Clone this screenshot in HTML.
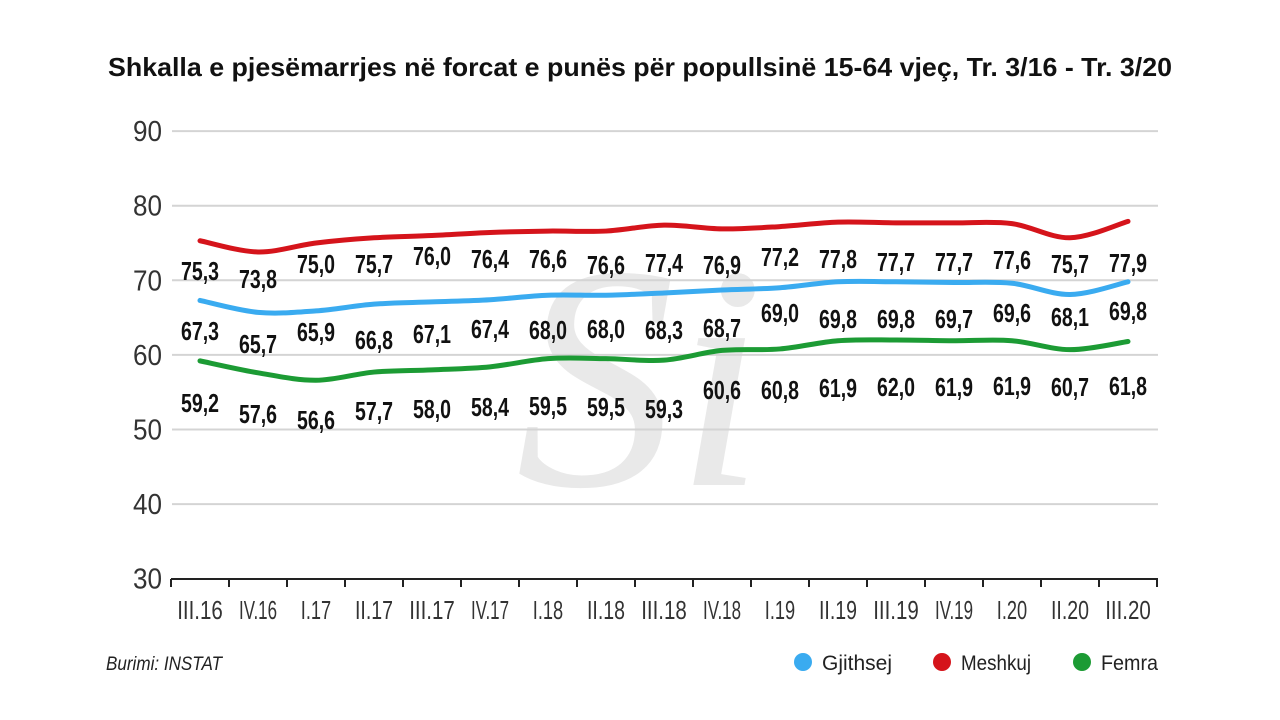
<!DOCTYPE html>
<html><head><meta charset="utf-8"><style>
html,body{margin:0;padding:0;background:#fff;width:1280px;height:720px;overflow:hidden}
svg{display:block}
.t{font-family:"Liberation Sans Narrow","Liberation Sans",sans-serif}
</style></head><body>
<svg id="s" width="1280" height="720" xmlns="http://www.w3.org/2000/svg">
<text x="640" y="76" text-anchor="middle" class="t" font-weight="bold" font-size="26" fill="#111" textLength="1064" lengthAdjust="spacingAndGlyphs">Shkalla e pjesëmarrjes në forcat e punës për popullsinë 15-64 vjeç, Tr. 3/16 - Tr. 3/20</text>
<text x="640" y="485" text-anchor="middle" font-family="Liberation Serif,serif" font-style="italic" font-size="320" fill="#e9e9e9">Si</text>
<g id="grid"></g>
<g id="series"></g>
<g id="labels"></g>
<text x="106" y="670" class="t" font-style="italic" font-size="19" fill="#222" textLength="116" lengthAdjust="spacingAndGlyphs">Burimi: INSTAT</text>
<circle cx="803" cy="662" r="9" fill="#3aabf0"/><text x="822" y="670" class="t" font-size="21" fill="#222" textLength="70" lengthAdjust="spacingAndGlyphs">Gjithsej</text>
<circle cx="942" cy="662" r="9" fill="#d5141b"/><text x="961" y="670" class="t" font-size="21" fill="#222" textLength="70" lengthAdjust="spacingAndGlyphs">Meshkuj</text>
<circle cx="1082" cy="662" r="9" fill="#1c9b34"/><text x="1101" y="670" class="t" font-size="21" fill="#222" textLength="57" lengthAdjust="spacingAndGlyphs">Femra</text>
</svg>
<script>
var NS="http://www.w3.org/2000/svg";
function el(p,n,a,txt){var e=document.createElementNS(NS,n);for(var k in a)e.setAttribute(k,a[k]);if(txt!=null)e.textContent=txt;document.getElementById(p).appendChild(e);return e;}
function Y(v){return 578.7-(v-30)*7.46;}
for(var v=40;v<=90;v+=10){el("grid","line",{x1:172,x2:1158,y1:Y(v),y2:Y(v),stroke:"#d4d4d4","stroke-width":2});}
for(var v=30;v<=90;v+=10){el("grid","text",{x:162,y:Y(v)+10,"text-anchor":"end","class":"t","font-size":29,fill:"#333",textLength:29,lengthAdjust:"spacingAndGlyphs"},String(v));}
el("grid","line",{x1:171,x2:1158,y1:579,y2:579,stroke:"#222","stroke-width":2});
var cats=["III.16","IV.16","I.17","II.17","III.17","IV.17","I.18","II.18","III.18","IV.18","I.19","II.19","III.19","IV.19","I.20","II.20","III.20"];
for(var i=0;i<=17;i++){var x=171+58*i;el("grid","line",{x1:x,x2:x,y1:579,y2:587,stroke:"#222","stroke-width":2});}
cats.forEach(function(c,i){el("grid","text",{x:200+58*i,y:619,"text-anchor":"middle","class":"t","font-size":26,fill:"#333",textLength:c.length*7.6,lengthAdjust:"spacingAndGlyphs"},c);});
var data=[
 {c:"#d5141b",v:[75.3,73.8,75.0,75.7,76.0,76.4,76.6,76.6,77.4,76.9,77.2,77.8,77.7,77.7,77.6,75.7,77.9],ly:[270,278,263,263,255,258,258,264,262,264,256,258,261,261,259,263,262]},
 {c:"#3aabf0",v:[67.3,65.7,65.9,66.8,67.1,67.4,68.0,68.0,68.3,68.7,69.0,69.8,69.8,69.7,69.6,68.1,69.8],ly:[330,343,331,339,333,328,329,328,329,327,312,318,318,318,312,316,310]},
 {c:"#1c9b34",v:[59.2,57.6,56.6,57.7,58.0,58.4,59.5,59.5,59.3,60.6,60.8,61.9,62.0,61.9,61.9,60.7,61.8],ly:[402,413,419,410,408,406,405,406,408,389,389,387,386,386,385,386,385]}
];
data.forEach(function(s){
 var p=s.v.map(function(v,i){return [200+58*i,Y(v)];});
 var d="M"+p[0][0]+","+p[0][1];
 for(var i=0;i<p.length-1;i++){
  var p0=p[Math.max(0,i-1)],p1=p[i],p2=p[i+1],p3=p[Math.min(p.length-1,i+2)];
  var c1=[p1[0]+(p2[0]-p0[0])/6,p1[1]+(p2[1]-p0[1])/6],c2=[p2[0]-(p3[0]-p1[0])/6,p2[1]-(p3[1]-p1[1])/6];
  d+=" C"+c1+" "+c2+" "+p2;
 }
 el("series","path",{d:d,fill:"none",stroke:s.c,"stroke-width":5,"stroke-linecap":"round"});
 s.v.forEach(function(v,i){el("labels","text",{x:200+58*i,y:s.ly[i]+10,"text-anchor":"middle","class":"t","font-weight":"bold","font-size":26,fill:"#111",textLength:38,lengthAdjust:"spacingAndGlyphs"},v.toFixed(1).replace(".",","));});
});
</script>
</body></html>
